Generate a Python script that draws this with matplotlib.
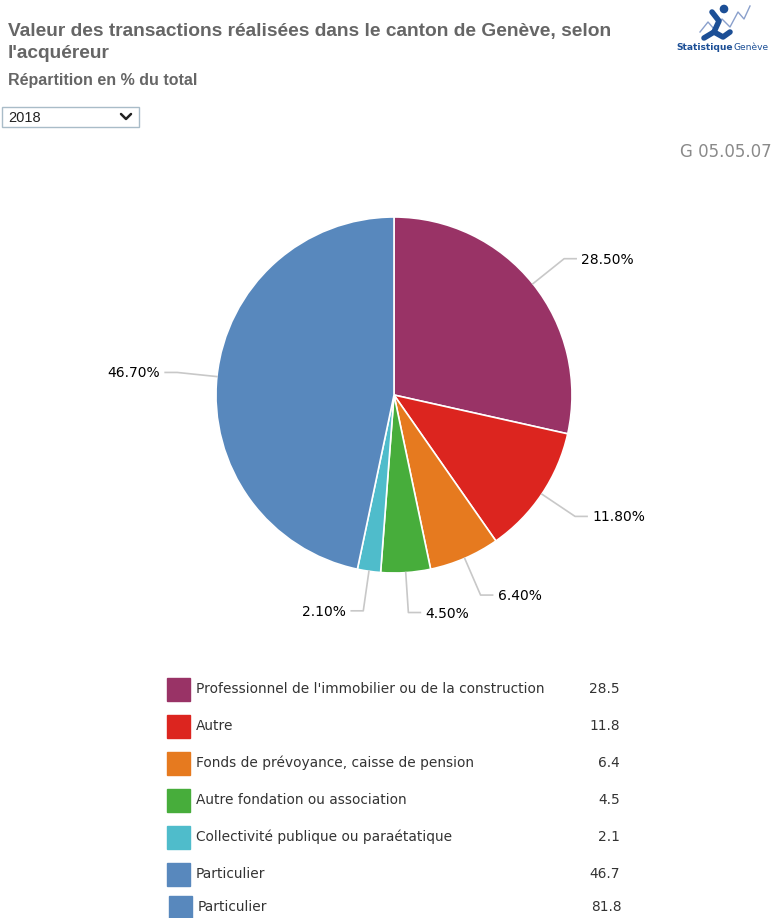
import numpy as np
import matplotlib
matplotlib.use("Agg")
import matplotlib.pyplot as plt
from matplotlib.patches import Rectangle

# --- data -------------------------------------------------------------
categories = [
    "Professionnel de l'immobilier ou de la construction",
    "Autre",
    "Fonds de prévoyance, caisse de pension",
    "Autre fondation ou association",
    "Collectivité publique ou paraétatique",
    "Particulier",
]
shares = [28.5, 11.8, 6.4, 4.5, 2.1, 46.7]
colors = ["#993366", "#dc251f", "#e67a1f", "#47ad3b", "#4fbccb", "#5888bd"]

# extra legend row shown under the chart
extra_label = "Particulier"
extra_value = 81.8
extra_color = "#5888bd"

title = "Valeur des transactions réalisées dans le canton de Genève, selon\nl'acquéreur"
subtitle = "Répartition en % du total"
year = "2018"
code = "G 05.05.07"

W, H = 781, 918
fig = plt.figure(figsize=(W / 100, H / 100), dpi=100)
ax = fig.add_axes([0, 0, 1, 1])

cx, cy, r = 394, 395, 178
wedges, _ = ax.pie(
    shares, colors=colors, startangle=-90, counterclock=True,
    center=(cx, cy), radius=r,
    wedgeprops=dict(edgecolor="white", linewidth=1.2),
)
ax.set_xlim(0, W)
ax.set_ylim(H, 0)
ax.set_aspect("equal")
ax.axis("off")

label_font = dict(family="DejaVu Sans", fontsize=10, color="#000000")

# data labels with connectors
for w, v in zip(wedges, shares):
    a = np.deg2rad((w.theta1 + w.theta2) / 2)
    ex, ey = cx + r * np.cos(a), cy + r * np.sin(a)
    kx, ky = cx + (r + 40) * np.cos(a), cy + (r + 40) * np.sin(a)
    side = 1 if np.cos(a) >= 0 else -1
    hx = kx + side * 12
    ax.plot([ex, kx, hx], [ey, ky, ky], color="#c8c8c8", lw=1.2, zorder=1)
    ax.text(hx + side * 5, ky + 1, f"{v:.2f}%", ha="left" if side > 0 else "right",
            va="center", **label_font)

# legend
leg_font = dict(family="DejaVu Sans", fontsize=9.9, color="#333333")
rows = list(zip(categories, shares, colors)) + [(extra_label, extra_value, extra_color)]
y = 689
for i, (lab, val, col) in enumerate(rows):
    dx = 2 if i == len(rows) - 1 else 0
    ax.add_patch(Rectangle((167 + dx, y - 11.5), 23, 23, color=col))
    ax.text(196 + dx, y, lab, ha="left", va="center", **leg_font)
    ax.text(620 + dx, y, f"{val:.1f}", ha="right", va="center", **leg_font)
    y += 37 if i < len(rows) - 2 else 33

# titles
ax.text(8, 23, title, ha="left", va="top", family="Liberation Sans",
        fontweight="bold", fontsize=13.8, color="#666666", linespacing=1.42)
ax.text(8, 81, subtitle, ha="left", va="center", family="Liberation Sans",
        fontweight="bold", fontsize=11.5, color="#666666")

# year selector box
ax.add_patch(Rectangle((2, 107), 137, 20, fill=False, edgecolor="#a9bcc8", lw=1))
ax.text(8, 117.5, year, ha="left", va="center", family="Liberation Sans",
        fontsize=10.5, color="#222222")
ax.plot([121, 126, 131], [114, 119, 114], color="#222222", lw=1.8,
        solid_capstyle="round", solid_joinstyle="round")

ax.text(772, 152, code, ha="right", va="center", family="DejaVu Sans",
        fontsize=12, color="#8a8a8a")

# logo (simplified)
ax.plot([700, 708, 714, 722, 730, 738, 744, 750],
        [32, 22, 29, 19, 27, 12, 19, 6], color="#8aa0cc", lw=1.0)
ax.plot([712, 719, 714, 723, 730], [12, 21, 32, 37, 32], color="#1c4f96", lw=4,
        solid_capstyle="round")
ax.plot([714, 704], [32, 38], color="#1c4f96", lw=4, solid_capstyle="round")
ax.add_patch(plt.Circle((724, 9), 3.6, color="#1c4f96"))
t1 = ax.text(676, 47, "Statistique", ha="left", va="center", family="DejaVu Sans",
             fontweight="bold", fontsize=6.6, color="#1c4f96")
fig.canvas.draw()
bb = t1.get_window_extent().transformed(ax.transData.inverted())
ax.text(bb.x1 + 0.5, 47, "Genève", ha="left", va="center", family="DejaVu Sans",
        fontsize=6.6, color="#1c4f96")

fig.savefig("out.png", dpi=100)
